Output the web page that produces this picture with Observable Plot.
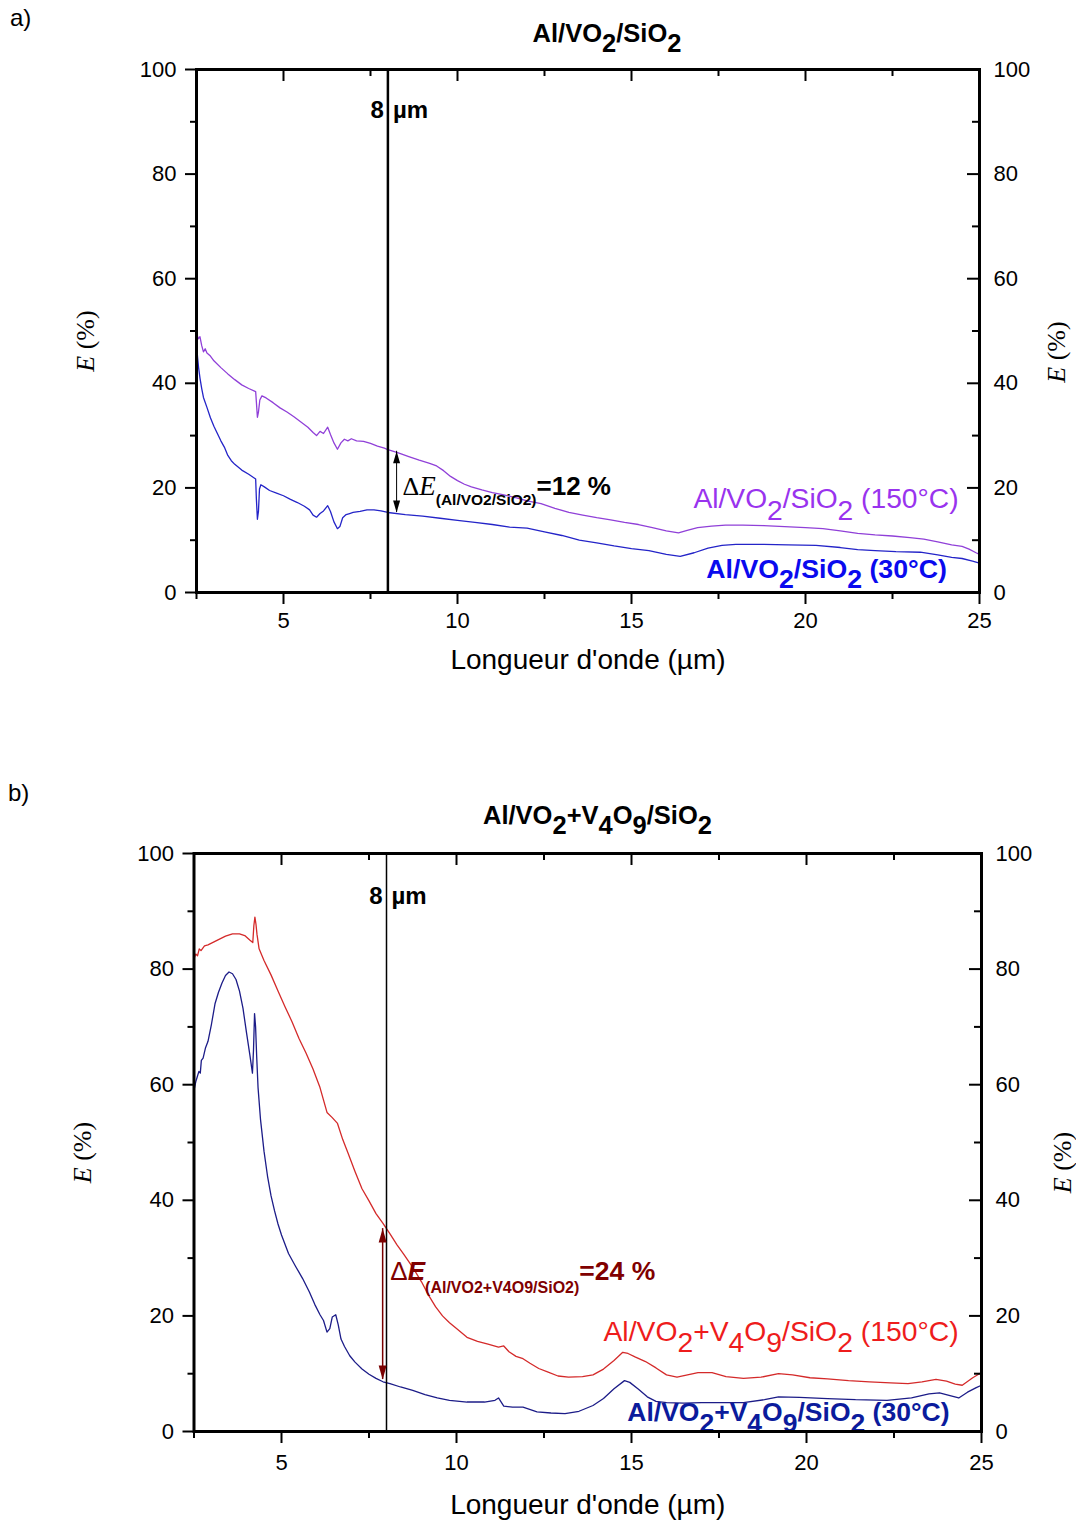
<!DOCTYPE html>
<html>
<head>
<meta charset="utf-8">
<script src="https://cdn.jsdelivr.net/npm/d3@7"></script>
<script src="https://cdn.jsdelivr.net/npm/@observablehq/plot@0.6"></script>
<style>
  body { margin: 0; background: #fff; }
  #wrap { position: relative; width: 1076px; height: 1524px; background: #fff; font-family: 'Liberation Sans', Arial, Helvetica, sans-serif; }
  .lab { position: absolute; font-size: 24px; line-height: 24px; color: #000; }
  .title { position: absolute; text-align: center; font-weight: bold; font-size: 25.5px; line-height: 25px; color: #000; }
  .sb { position: relative; top: 0.4em; }
  .panel { position: absolute; left: 0; }
</style>
</head>
<body>
<div id="wrap">
  <div class="lab" style="left:10px;top:6px">a)</div>
  <div class="title" style="left:0;top:21px;width:1214px">Al/VO<span class="sb">2</span>/SiO<span class="sb">2</span></div>
  <div id="pa" class="panel" style="top:55px"></div>
  <div class="lab" style="left:8px;top:781px">b)</div>
  <div class="title" style="left:0;top:803px;width:1195px">Al/VO<span class="sb">2</span>+V<span class="sb">4</span>O<span class="sb">9</span>/SiO<span class="sb">2</span></div>
  <div id="pb" class="panel" style="top:838px"></div>
</div>
<script>
// ---------- data ----------
const xMajor = [5, 10, 15, 20, 25];
const xMinor = [2.5, 7.5, 12.5, 17.5, 22.5];
const yMajor = [0, 20, 40, 60, 80, 100];
const yMinor = [10, 30, 50, 70, 90];

const xLabel = "Longueur d'onde (µm)";
const yLabel = "E (%)";
const markerWave = 8;

// Panel a: Al/VO2/SiO2 at 150°C (purple)
const a150 = [
  [2.5,49.8],[2.55,48.5],[2.6,48.9],[2.65,47.2],[2.7,46.0],[2.75,46.6],[2.8,45.8],[2.9,45.2],[3.0,44.3],
  [3.2,43.0],[3.4,41.8],[3.6,40.7],[3.8,39.7],[4.0,39.0],[4.2,38.4],[4.22,36.5],[4.25,33.5],[4.28,34.5],
  [4.32,36.8],[4.38,37.6],[4.5,37.2],[4.7,36.3],[4.9,35.3],[5.1,34.5],[5.3,33.6],[5.5,32.6],[5.7,31.6],
  [5.85,30.6],[5.95,30.0],[6.05,30.8],[6.15,30.4],[6.27,31.6],[6.35,30.2],[6.45,28.6],[6.55,27.4],
  [6.65,28.6],[6.75,29.3],[6.85,29.0],[6.95,29.4],[7.1,29.0],[7.3,28.9],[7.5,28.5],[7.7,28.0],[7.9,27.6],
  [8.0,27.3],[8.3,26.7],[8.6,26.0],[8.9,25.3],[9.2,24.7],[9.4,24.2],[9.6,23.3],[9.8,22.2],[10.0,21.4],
  [10.2,20.7],[10.4,20.2],[10.7,19.6],[11.0,19.1],[11.3,18.7],[11.7,18.1],[12.0,17.5],[12.4,17.0],
  [12.8,16.1],[13.2,15.3],[13.6,14.8],[14.0,14.3],[14.4,13.9],[14.8,13.4],[15.2,13.0],[15.6,12.4],
  [16.0,11.8],[16.35,11.4],[16.6,11.9],[16.9,12.4],[17.3,12.7],[17.7,12.9],[18.2,12.9],[18.8,12.8],
  [19.4,12.6],[20.0,12.4],[20.5,12.2],[21.0,11.8],[21.5,11.3],[22.0,11.0],[22.5,10.8],[23.0,10.5],
  [23.4,10.2],[23.8,9.7],[24.2,9.1],[24.5,8.8],[24.7,8.3],[24.9,7.6],[25.0,7.3]
];
// Panel a: Al/VO2/SiO2 at 30°C (blue)
const a30 = [
  [2.5,47.5],[2.53,45.0],[2.56,43.0],[2.6,41.0],[2.65,39.0],[2.7,37.3],[2.8,35.4],[2.9,33.4],[3.0,31.8],
  [3.1,30.4],[3.2,29.0],[3.3,27.8],[3.4,26.2],[3.5,25.2],[3.6,24.5],[3.8,23.4],[4.0,22.6],[4.2,21.7],
  [4.22,18.0],[4.25,14.0],[4.28,15.5],[4.31,19.8],[4.35,20.6],[4.45,20.2],[4.6,19.5],[4.8,19.0],[5.0,18.5],
  [5.2,17.8],[5.4,17.2],[5.6,16.5],[5.75,15.8],[5.85,14.8],[5.95,14.4],[6.05,15.1],[6.15,15.6],[6.27,16.6],
  [6.35,15.5],[6.45,13.5],[6.55,12.2],[6.62,12.6],[6.7,14.3],[6.8,14.9],[6.9,15.1],[7.0,15.3],[7.2,15.5],
  [7.4,15.8],[7.6,15.8],[7.8,15.6],[8.0,15.3],[8.5,14.9],[9.0,14.6],[9.5,14.2],[10.0,13.8],[10.5,13.4],
  [11.0,13.0],[11.5,12.5],[12.0,12.3],[12.5,11.6],[13.0,10.9],[13.5,10.0],[14.0,9.5],[14.5,8.9],[15.0,8.4],
  [15.5,8.0],[16.0,7.3],[16.4,6.9],[16.8,7.6],[17.2,8.5],[17.6,9.0],[18.0,9.2],[18.8,9.2],[19.5,9.1],
  [20.3,9.0],[21.0,8.6],[21.5,8.2],[22.0,8.0],[22.6,7.8],[23.3,7.7],[23.8,7.2],[24.2,6.7],[24.5,6.5],
  [24.8,6.0],[25.0,5.6]
];
// Panel b: Al/VO2+V4O9/SiO2 at 150°C (red)
const b150 = [
  [2.5,81.8],[2.55,82.6],[2.6,82.3],[2.65,83.5],[2.7,83.2],[2.8,84.0],[2.9,84.2],[3.0,84.5],[3.2,85.1],
  [3.4,85.7],[3.6,86.1],[3.8,86.1],[3.95,85.8],[4.1,85.0],[4.18,84.6],[4.21,87.5],[4.24,89.0],[4.27,87.8],
  [4.3,86.0],[4.36,83.5],[4.5,81.5],[4.7,79.0],[4.9,76.2],[5.1,73.5],[5.3,70.9],[5.5,68.0],[5.7,65.5],
  [5.9,62.7],[6.1,59.5],[6.3,55.2],[6.45,54.3],[6.6,53.3],[6.75,50.5],[6.9,48.2],[7.1,45.0],[7.3,42.0],
  [7.5,39.9],[7.7,37.7],[7.9,36.0],[8.1,34.2],[8.3,32.3],[8.5,30.6],[8.75,28.4],[9.0,25.9],[9.2,23.6],
  [9.4,21.6],[9.6,20.0],[9.8,18.8],[10.0,17.8],[10.3,16.3],[10.6,15.6],[10.9,15.1],[11.2,14.6],[11.35,14.8],
  [11.5,13.8],[11.7,13.0],[11.9,12.6],[12.1,11.8],[12.35,10.9],[12.6,10.3],[12.9,9.6],[13.2,9.4],[13.6,9.5],
  [13.9,9.8],[14.2,10.8],[14.5,12.3],[14.75,13.7],[14.9,13.5],[15.1,12.9],[15.4,12.1],[15.7,11.0],[16.0,9.8],
  [16.3,9.4],[16.6,9.8],[16.9,10.2],[17.3,10.2],[17.7,9.5],[18.2,9.2],[18.7,9.4],[19.2,10.0],[19.6,9.8],
  [20.1,9.3],[20.6,9.1],[21.2,8.8],[21.8,8.6],[22.4,8.4],[22.9,8.3],[23.3,8.6],[23.7,9.0],[24.0,8.7],
  [24.25,8.2],[24.45,8.0],[24.75,9.3],[25.0,10.2]
];
// Panel b: Al/VO2+V4O9/SiO2 at 30°C (navy)
const b30 = [
  [2.5,59.0],[2.55,60.5],[2.6,61.5],[2.64,62.3],[2.68,62.0],[2.71,64.2],[2.76,64.6],[2.83,66.4],[2.9,67.5],
  [3.0,70.5],[3.1,74.0],[3.2,76.0],[3.3,77.6],[3.4,78.9],[3.5,79.5],[3.6,79.2],[3.7,78.2],[3.8,76.2],
  [3.9,73.2],[4.0,69.0],[4.1,65.0],[4.17,62.0],[4.2,66.0],[4.23,72.3],[4.26,70.0],[4.29,65.0],[4.33,59.5],
  [4.4,54.0],[4.5,48.5],[4.6,44.2],[4.7,40.8],[4.8,38.2],[4.9,35.9],[5.0,34.0],[5.2,30.8],[5.4,28.6],
  [5.6,26.5],[5.8,24.1],[5.95,22.0],[6.1,20.2],[6.2,19.2],[6.3,17.2],[6.38,17.8],[6.45,19.8],[6.55,20.2],
  [6.62,18.5],[6.7,16.0],[6.8,14.7],[6.95,13.1],[7.1,12.0],[7.3,10.8],[7.5,9.9],[7.7,9.2],[7.9,8.6],
  [8.1,8.3],[8.4,7.7],[8.75,7.1],[9.1,6.4],[9.45,5.8],[9.8,5.4],[10.3,5.1],[10.8,5.1],[11.1,5.4],
  [11.2,5.8],[11.35,4.4],[11.6,4.2],[11.9,4.2],[12.3,3.4],[12.7,3.2],[13.1,3.1],[13.5,3.5],[13.9,4.5],
  [14.2,5.7],[14.5,7.4],[14.8,8.8],[14.95,8.5],[15.2,7.3],[15.45,6.0],[15.7,5.2],[16.0,5.0],[16.5,4.9],
  [17.0,5.0],[17.5,5.0],[18.2,5.0],[18.8,5.5],[19.2,6.0],[19.8,5.9],[20.6,5.7],[21.4,5.5],[22.3,5.4],
  [23.0,5.8],[23.5,6.5],[23.8,6.7],[24.1,6.2],[24.35,5.8],[24.6,6.8],[24.85,7.6],[25.0,8.0]
];

const labelsA = ["Al/VO_2/SiO_2 (150°C)", "Al/VO_2/SiO_2 (30°C)"];
const labelsB = ["Al/VO_2+V_4O_9/SiO_2 (150°C)", "Al/VO_2+V_4O_9/SiO_2 (30°C)"];
const deltaA = "ΔE(Al/VO2/SiO2)=12 %";
const deltaB = "ΔE(Al/VO2+V4O9/SiO2)=24 %";
const deltaSpanA = [27.0, 15.3];
const deltaSpanB = [35.1, 9.0];

// ---------- styles ----------
const SANS = "'Liberation Sans', Arial, Helvetica, sans-serif";
const SERIF = "'Liberation Serif', 'Times New Roman', Times, serif";

const RICH = {
  [yLabel]: [{t: "E", fst: "italic"}, {t: " (%)"}],
  [deltaA]: [
    {t: "Δ", ff: SERIF, fw: "normal", fs: 26},
    {t: "E", ff: SERIF, fw: "normal", fst: "italic", fs: 27},
    {t: "(Al/VO2/SiO2)", fs: 15.5, off: 10},
    {t: "=12 %", fs: 26, off: 0}
  ],
  [deltaB]: [
    {t: "Δ", fw: "normal", fs: 26},
    {t: "E", fst: "italic", fs: 26},
    {t: "(Al/VO2+V4O9/SiO2)", fs: 16, off: 13},
    {t: "=24 %", fs: 26.5, off: 0}
  ]
};

function richify(svg) {
  d3.select(svg).selectAll("text").each(function () {
    const s = this.textContent;
    const sel = d3.select(this);
    if (RICH[s]) {
      sel.text(null);
      let off = 0;
      for (const p of RICH[s]) {
        const ts = sel.append("tspan").text(p.t);
        const o = p.off || 0;
        if (o !== off) ts.attr("dy", o - off);
        off = o;
        if (p.ff) ts.attr("font-family", p.ff);
        if (p.fw) ts.attr("font-weight", p.fw);
        if (p.fst) ts.attr("font-style", p.fst);
        if (p.fs) ts.attr("font-size", p.fs);
      }
    } else if (s.includes("_")) {
      sel.text(null);
      const re = /_(.)/g;
      let last = 0, m;
      while ((m = re.exec(s))) {
        if (m.index > last) sel.append("tspan").text(s.slice(last, m.index)).attr("dy", last === 0 ? null : "-0.4em");
        sel.append("tspan").text(m[1]).attr("dy", "0.4em");
        last = m.index + 2;
      }
      if (last < s.length) sel.append("tspan").text(s.slice(last)).attr("dy", "-0.4em");
    }
  });
}

function headShape(w) {
  return { draw(context, l) { context.moveTo(0, 0); context.lineTo(-w, l); context.lineTo(w, l); context.closePath(); } };
}

function frameMarks(W, H, pad) {
  return [
    Plot.axisX({anchor: "bottom", ticks: xMajor, tickSize: 12, tickPadding: pad, strokeWidth: 2, label: null}),
    Plot.axisX({anchor: "bottom", ticks: xMinor, tickSize: 7, fill: "none", tickFormat: () => "", strokeWidth: 2, label: null}),
    Plot.axisY({anchor: "left", ticks: yMajor, tickSize: 11, tickPadding: 9, strokeWidth: 2, label: null}),
    Plot.axisY({anchor: "left", ticks: yMinor, tickSize: 6, fill: "none", tickFormat: () => "", strokeWidth: 2, label: null}),
    Plot.axisY({anchor: "right", ticks: yMajor, tickSize: 0, tickPadding: 14, label: null}),
    Plot.tickX(xMajor, {x: d => d, insetBottom: H - 12, strokeWidth: 2}),
    Plot.tickX(xMinor, {x: d => d, insetBottom: H - 7, strokeWidth: 2}),
    Plot.tickY(yMajor, {y: d => d, insetLeft: W - 12, strokeWidth: 2}),
    Plot.tickY(yMinor, {y: d => d, insetLeft: W - 7, strokeWidth: 2}),
    Plot.frame({strokeWidth: 3})
  ];
}

function panel(o) {
  const W = o.width - o.marginLeft - o.marginRight;
  const H = o.height - o.marginTop - o.marginBottom;
  const svg = Plot.plot({
    width: o.width, height: o.height,
    marginLeft: o.marginLeft, marginRight: o.marginRight, marginTop: o.marginTop, marginBottom: o.marginBottom,
    style: {fontFamily: SANS, fontSize: "22px", overflow: "visible", background: "transparent", color: "#000"},
    x: {domain: [2.5, 25], label: null},
    y: {domain: [0, 100], label: null},
    marks: [
      Plot.line(o.hot, {x: d => d[0], y: d => d[1], stroke: o.hotLine, strokeWidth: 1.3}),
      Plot.line(o.cold, {x: d => d[0], y: d => d[1], stroke: o.coldLine, strokeWidth: 1.3}),
      Plot.ruleX([markerWave], {x: d => d, y1: 0, y2: 100, stroke: "#000", strokeWidth: o.vlineWidth}),
      Plot.text([String(markerWave)], {x: () => markerWave, y: () => o.markY, text: d => d, textAnchor: "end", dx: -4, fontWeight: "bold", fontSize: 24}),
      Plot.text(["µm"], {x: () => markerWave, y: () => o.markY, text: d => d, textAnchor: "start", dx: 5, fontWeight: "bold", fontSize: 24}),
      // double arrow
      Plot.ruleX([o.arrow], {x: d => d.x, y1: d => d.y1, y2: d => d.y2, stroke: o.arrowColor, strokeWidth: o.arrowWidth}),
      Plot.vector([o.arrow], {x: d => d.x, y: d => d.y1, length: o.headLen, anchor: "start", rotate: 0, shape: headShape(o.headW), fill: o.arrowColor, stroke: "none"}),
      Plot.vector([o.arrow], {x: d => d.x, y: d => d.y2, length: o.headLen, anchor: "start", rotate: 180, shape: headShape(o.headW), fill: o.arrowColor, stroke: "none"}),
      Plot.text([o.delta], {x: () => o.deltaPos[0], y: () => o.deltaPos[1], text: d => d, textAnchor: "start", fontWeight: "bold", fontSize: 24, fill: o.deltaColor}),
      // series labels
      Plot.text([o.labels[0]], {x: () => o.hotPos[0], y: () => o.hotPos[1], text: d => d, textAnchor: "start", fontSize: o.hotSize, fill: o.hotText}),
      Plot.text([o.labels[1]], {x: () => o.coldPos[0], y: () => o.coldPos[1], text: d => d, textAnchor: "start", fontWeight: "bold", fontSize: o.coldSize, fill: o.coldText}),
      ...frameMarks(W, H, o.tickPad),
      // axis titles
      Plot.text([xLabel], {frameAnchor: "bottom", text: d => d, textAnchor: "middle", dy: o.xLabelDy, fontSize: 28}),
      Plot.text([yLabel], {frameAnchor: "left", text: d => d, textAnchor: "middle", dx: o.yLeft[0], dy: o.yLeft[1], rotate: -90, fontFamily: SERIF, fontSize: 26}),
      Plot.text([yLabel], {frameAnchor: "right", text: d => d, textAnchor: "middle", dx: o.yRight[0], dy: o.yRight[1], rotate: -90, fontFamily: SERIF, fontSize: 26})
    ]
  });
  richify(svg);
  return svg;
}

document.getElementById("pa").appendChild(panel({
  width: 1076, height: 645, marginLeft: 196, marginRight: 97, marginTop: 14, marginBottom: 108,
  hot: a150, cold: a30, hotLine: "#9040d8", coldLine: "#2424c8",
  vlineWidth: 2.5, markY: 92.2, tickPad: 8,
  arrow: {x: 8.25, y1: deltaSpanA[0], y2: deltaSpanA[1]}, arrowColor: "#000", arrowWidth: 1, headLen: 12, headW: 3.5,
  delta: deltaA, deltaPos: [8.42, 20.1], deltaColor: "#000",
  labels: labelsA, hotPos: [16.78, 17.8], coldPos: [17.15, 4.5], hotSize: 28.2, coldSize: 26.7,
  hotText: "#9933ee", coldText: "#0a0aee",
  xLabelDy: 76, yLeft: [-111, 10], yRight: [77, 21]
}));

document.getElementById("pb").appendChild(panel({
  width: 1076, height: 686, marginLeft: 193.5, marginRight: 95, marginTop: 15, marginBottom: 93,
  hot: b150, cold: b30, hotLine: "#d42a2a", coldLine: "#1c1c88",
  vlineWidth: 1.5, markY: 92.6, tickPad: 11,
  arrow: {x: 7.89, y1: deltaSpanB[0], y2: deltaSpanB[1]}, arrowColor: "#7a0000", arrowWidth: 1.5, headLen: 14, headW: 4,
  delta: deltaB, deltaPos: [8.11, 27.5], deltaColor: "#800000",
  labels: labelsB, hotPos: [14.2, 17.3], coldPos: [14.88, 3.3], hotSize: 28.3, coldSize: 26.5,
  hotText: "#ee1c1c", coldText: "#0b1b9c",
  xLabelDy: 82, yLeft: [-111.5, 10], yRight: [81, 20]
}));
</script>
</body>
</html>
